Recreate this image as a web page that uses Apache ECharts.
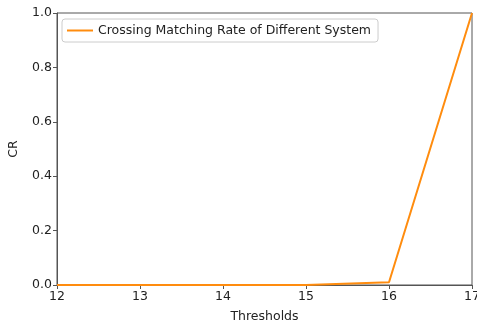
<!DOCTYPE html>
<html>
<head>
<meta charset="utf-8">
<script src="https://cdn.jsdelivr.net/npm/echarts@6/dist/echarts.min.js"></script>
<style>
  html, body { margin: 0; padding: 0; background: #fff; }
  #chart { width: 477px; height: 324px; }
</style>
</head>
<body>
<div id="chart"></div>
<script>
// 数据
var thresholds = [12, 13, 14, 15, 16, 17];
var crValues = [0, 0, 0, 0, 0.01, 1];
var seriesName = 'Crossing Matching Rate of Different System';

var myChart = echarts.init(document.getElementById('chart'));

var pairs = thresholds.map(function (t, i) { return [t, crValues[i]]; });

var axisFont = { fontFamily: 'DejaVu Sans', fontSize: 12.5, color: '#222' };

var option = {
    animation: false,
    grid: {
        left: 57, right: 5, top: 13, bottom: 39,
        outerBoundsMode: 'none',
        containLabel: false,
        show: true, borderColor: '#555', borderWidth: 1
    },
    legend: {
        left: 62, top: 19,
        data: [{ name: seriesName, icon: 'rect' }],
        itemWidth: 26, itemHeight: 2, itemGap: 8,
        padding: [5, 7, 5, 5],
        borderColor: '#ccc', borderWidth: 1, borderRadius: 3,
        textStyle: { fontFamily: 'DejaVu Sans', fontSize: 12.5, color: '#222' }
    },
    xAxis: {
        type: 'value', min: 12, max: 17, interval: 1,
        name: 'Thresholds', nameLocation: 'middle', nameGap: 25,
        nameTextStyle: axisFont,
        axisLine: { show: true, lineStyle: { color: '#555' } },
        axisTick: { show: true, length: 4, lineStyle: { color: '#555' } },
        axisLabel: Object.assign({ margin: 5 }, axisFont),
        splitLine: { show: false }
    },
    yAxis: {
        type: 'value', min: 0, max: 1, interval: 0.2,
        name: 'CR', nameLocation: 'middle', nameGap: 37,
        nameTextStyle: axisFont,
        axisLine: { show: true, lineStyle: { color: '#555' } },
        axisTick: { show: true, length: 4, lineStyle: { color: '#555' } },
        axisLabel: Object.assign({ margin: 5, formatter: function (v) { return v.toFixed(1); } }, axisFont),
        splitLine: { show: false }
    },
    series: [{
        name: seriesName,
        type: 'line',
        data: pairs,
        showSymbol: false,
        symbol: 'none',
        lineStyle: { color: '#ff8c0e', width: 2 },
        itemStyle: { color: '#ff8c0e' }
    }]
};

myChart.setOption(option);
</script>
</body>
</html>
